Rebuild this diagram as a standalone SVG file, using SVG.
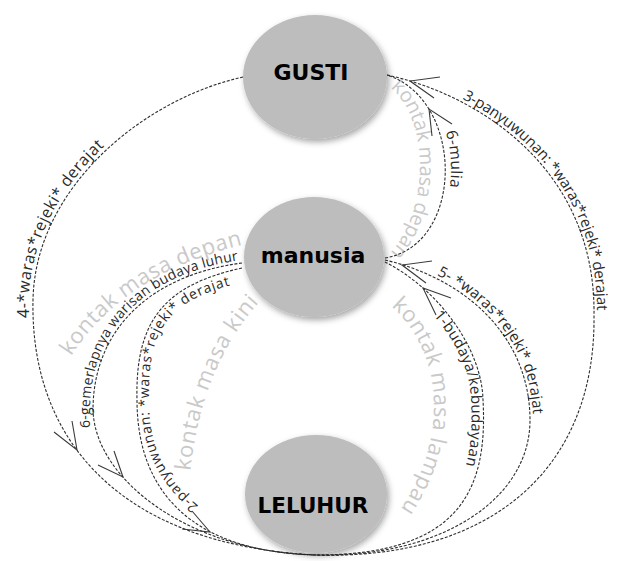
<svg xmlns="http://www.w3.org/2000/svg" width="623" height="561" viewBox="0 0 623 561">
<style>
.arc{fill:none;stroke:#2e2e2e;stroke-width:1.1;stroke-dasharray:3 1.6}
.ah{fill:none;stroke:#3a3a3a;stroke-width:1.1}
.lbl{font-family:"Open Sans","Liberation Sans",sans-serif;fill:#2a2a2a;font-size:15px}
.gray{font-family:"Open Sans","Liberation Sans",sans-serif;fill:#c9c9c9;font-size:22px}
.node{fill:#bdbdbd;filter:url(#sh)}
.nt{font-family:"DejaVu Sans","Liberation Sans",sans-serif;font-weight:bold;fill:#000;text-anchor:middle;font-size:22px}
</style>
<defs>
<filter id="sh" x="-20%" y="-20%" width="150%" height="150%"><feDropShadow dx="2" dy="3" stdDeviation="3" flood-color="#000" flood-opacity="0.35"/></filter>
<path id="pA" d="M29,322 L29,300 C31,188 138,96 242,73"/>
<path id="pB" d="M70,358 Q123,273 246,244"/>
<path id="pC" d="M90,436 L90,410 C90,328 148,272 242,260"/>
<path id="pD" d="M201,508 C163,478 149,445 149,400 C147,327 170,298 245,282"/>
<path id="pE" d="M190,474 C196,415 214,350 264,297"/>
<path id="pF" d="M390,68 C472,96 472,249 386,265"/>
<path id="pG" d="M388,86 C430,115 432,215 385,258"/>
<path id="pH" d="M387,72 C482,92 599,168 597,315 L597,340"/>
<path id="pI" d="M386,257 C472,277 533,338 533,420 L533,440"/>
<path id="pJ" d="M379,272 C430,300 470,352 471,400 C475,485 452,543 318,546"/>
<path id="pK" d="M388,304 C435,340 460,430 393,520"/>
</defs>
<rect width="623" height="561" fill="#fff"/>
<g id="gray-labels">
<text class="gray"><textPath href="#pB" startOffset="2" textLength="210" lengthAdjust="spacing">kontak masa depan</textPath></text>
<text class="gray"><textPath href="#pE" startOffset="3" textLength="185" lengthAdjust="spacing">kontak masa kini</textPath></text>
<text class="gray" style="font-size:20px"><textPath href="#pG" startOffset="3" textLength="180" lengthAdjust="spacing">kontak masa depan</textPath></text>
<text class="gray"><textPath href="#pK" startOffset="4" textLength="222" lengthAdjust="spacing">kontak masa lampau</textPath></text>
</g>
<g id="connectors">
<path class="arc" d="M243,77 C140,100 35,190 33,300 C30,440 120,545 316,555"/>
<path class="arc" d="M387,75 C480,95 596,170 594,315 C596,470 490,560 316,555"/>
<path class="arc" d="M385,258 C465,245 465,100 387,75"/>
<path class="arc" d="M385,260 C470,280 530,340 530,420 C530,500 440,558 316,555"/>
<path class="arc" d="M316,555 C460,555 488,490 483,400 C482,350 440,290 385,262"/>
<path class="arc" d="M242,263 C150,275 93,330 93,410 C95,480 190,552 316,555"/>
<path class="arc" d="M242,268 C165,285 135,320 137,400 C137,490 190,552 316,555"/>
<path class="ah" d="M440,77 L410,81 L434,98"/>
<path class="ah" d="M452,124 L429,109 L432,136"/>
<path class="ah" d="M432,261 L402,265 L426,283"/>
<path class="ah" d="M451,298 L423,288 L436,315"/>
<path class="ah" d="M54,432 L77,450 L72,421"/>
<path class="ah" d="M98,465 L123,477 L114,451"/>
<path class="ah" d="M182,529 L210,532 L192,511"/>
</g>
<g id="labels">
<text class="lbl" style="font-size:16px"><textPath href="#pA" startOffset="4" textLength="194" lengthAdjust="spacing">4-*waras*rejeki* derajat</textPath></text>
<text class="lbl" style="font-size:14px"><textPath href="#pC" startOffset="8" textLength="250" lengthAdjust="spacing">6-gemerlapnya warisan budaya luhur</textPath></text>
<text class="lbl" style="font-size:14px"><textPath href="#pD" startOffset="3" textLength="278" lengthAdjust="spacing">2-panyuwunan: *waras*rejeki* derajat</textPath></text>
<text class="lbl" style="font-size:15.5px"><textPath href="#pF" startOffset="88" textLength="56" lengthAdjust="spacing">6-mulia</textPath></text>
<text class="lbl"><textPath href="#pH" startOffset="80" textLength="265" lengthAdjust="spacing">3-panyuwunan: *waras*rejeki* derajat</textPath></text>
<text class="lbl"><textPath href="#pI" startOffset="54" textLength="178" lengthAdjust="spacing">5- *waras*rejeki* derajat</textPath></text>
<text class="lbl"><textPath href="#pJ" startOffset="70" textLength="160" lengthAdjust="spacing">1-budaya/kebudayaan</textPath></text>
</g>
<g id="node-gusti">
<ellipse class="node" cx="315" cy="77" rx="72" ry="62"/>
<text class="nt" x="311" y="80">GUSTI</text>
</g>
<g id="node-manusia">
<ellipse class="node" cx="314" cy="257" rx="70" ry="60"/>
<text class="nt" x="313" y="263">manusia</text>
</g>
<g id="node-leluhur">
<ellipse class="node" cx="316" cy="494" rx="71" ry="59"/>
<text class="nt" x="313" y="513" style="font-size:21.5px">LELUHUR</text>
</g>
</svg>
